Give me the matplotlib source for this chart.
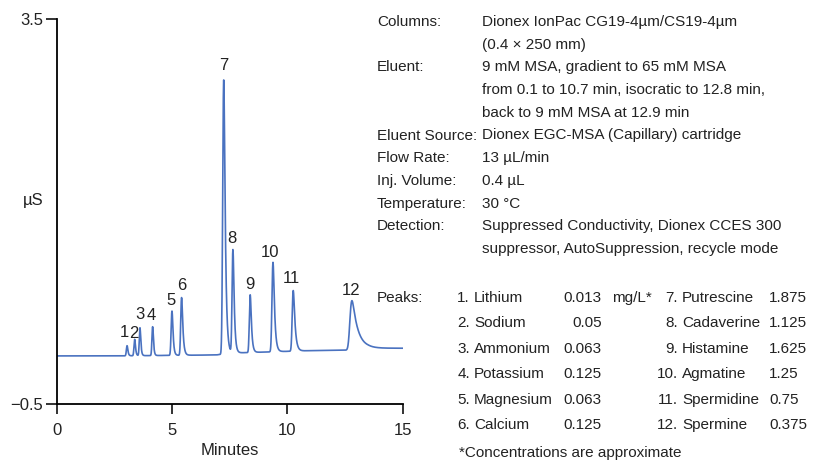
import numpy as np
import matplotlib
matplotlib.use("Agg")
import matplotlib.pyplot as plt
from matplotlib import font_manager

# font: narrow sans if there is one
names = {f.name for f in font_manager.fontManager.ttflist}
if "Liberation Sans Narrow" in names:
    FONT = ["Liberation Sans Narrow", "DejaVu Sans"]
else:
    FONT = ["Liberation Sans", "DejaVu Sans"]
plt.rcParams["font.family"] = FONT

# peaks
peak_ids = ["1", "2", "3", "4", "5", "6", "7", "8", "9", "10", "11", "12"]
peak_times = [3.03, 3.36, 3.59, 4.14, 4.98, 5.40, 7.23, 7.63, 8.38, 9.37, 10.25, 12.80]
peak_heights = [0.105, 0.17, 0.29, 0.30, 0.46, 0.60, 2.85, 1.07, 0.60, 0.93, 0.63, 0.51]
peak_sigma = [0.025, 0.025, 0.025, 0.025, 0.03, 0.03, 0.035, 0.03, 0.03, 0.035, 0.035, 0.06]
peak_tau = [0.03, 0.03, 0.03, 0.03, 0.04, 0.05, 0.06, 0.05, 0.05, 0.06, 0.07, 0.25]

# drifting baseline
base_times = [0, 2.5, 6.9, 7.6, 9.0, 11.0, 12.6, 13.5, 15.0]
base_values = [0.0, 0.0, 0.01, 0.03, 0.04, 0.055, 0.06, 0.08, 0.08]

# method text
cond_labels = ["Columns:", "", "Eluent:", "", "", "Eluent Source:", "Flow Rate:",
               "Inj. Volume:", "Temperature:", "Detection:", ""]
cond_values = ["Dionex IonPac CG19-4µm/CS19-4µm", "(0.4 × 250 mm)",
               "9 mM MSA, gradient to 65 mM MSA",
               "from 0.1 to 10.7 min, isocratic to 12.8 min,",
               "back to 9 mM MSA at 12.9 min",
               "Dionex EGC-MSA (Capillary) cartridge", "13 µL/min", "0.4 µL", "30 °C",
               "Suppressed Conductivity, Dionex CCES 300",
               "suppressor, AutoSuppression, recycle mode"]

names_left = ["Lithium", "Sodium", "Ammonium", "Potassium", "Magnesium", "Calcium"]
conc_left = ["0.013", "0.05", "0.063", "0.125", "0.063", "0.125"]
names_right = ["Putrescine", "Cadaverine", "Histamine", "Agmatine", "Spermidine", "Spermine"]
conc_right = ["1.875", "1.125", "1.625", "1.25", "0.75", "0.375"]

# label nudges (points)
label_dx = [-2.2, -0.6, 0, -1, -1, 0, 0, -1, 0, -2, -1, -1]
label_dy = [4, -1, 4, 3, 2, 3, 5, 3, 2, 2, 3, 2]


def emg(t, t0, h, s, tau):
    dt = t[1] - t[0]
    k = np.exp(-np.arange(0, 12 * tau, dt) / tau)
    y = np.convolve(np.exp(-0.5 * ((t - t0) / s) ** 2), k)[:len(t)]
    shift = t[np.argmax(y)] - t0
    y = np.convolve(np.exp(-0.5 * ((t - t0 + shift) / s) ** 2), k)[:len(t)]
    return h * y / y.max()


t = np.linspace(0, 15, 6001)
trace = np.interp(t, base_times, base_values)
for t0, h, s, tau in zip(peak_times, peak_heights, peak_sigma, peak_tau):
    trace = trace + emg(t, t0, h, s, tau)

W, H = 825, 465
fig = plt.figure(figsize=(8.25, 4.65), dpi=100)
ax = fig.add_axes([57.3 / W, 1 - 404 / H, 345.3 / W, 384.7 / H])

ax.plot(t, trace, color="#4a72c0", lw=1.2)
ax.set_xlim(0, 15)
ax.set_ylim(-0.5, 3.5)
ax.set_xticks([0, 5, 10, 15])
ax.set_yticks([-0.5, 3.5])
ax.set_yticklabels(["\u22120.5", "3.5"])
ax.spines["top"].set_visible(False)
ax.spines["right"].set_visible(False)
for sp in ("left", "bottom"):
    ax.spines[sp].set_linewidth(1.3)
ax.tick_params(axis="x", length=7, width=1.3, labelsize=12, colors="#222222", pad=7)
ax.tick_params(axis="y", length=8, width=1.3, labelsize=12, colors="#222222", pad=2)
ax.set_xlabel("Minutes", fontsize=12, labelpad=3, color="#222222")
ax.text(-0.07, 0.53, "µS", transform=ax.transAxes, fontsize=12,
        ha="center", va="center", color="#222222")

for i, lab in enumerate(peak_ids):
    ax.annotate(lab, (peak_times[i], peak_heights[i] + np.interp(peak_times[i], base_times, base_values)),
                xytext=(label_dx[i], label_dy[i]), textcoords="offset points",
                ha="center", va="bottom", fontsize=12, color="#222222")


def ftext(x, y, s, **kw):
    fig.text(x / W, 1 - y / H, s, va="center", fontsize=11, color="#222222", **kw)


y0, dy = 22, 22.7
for i, (a, b) in enumerate(zip(cond_labels, cond_values)):
    ftext(377, y0 + i * dy, a)
    ftext(482, y0 + i * dy, b)

ftext(377, 298, "Peaks:")
for i in range(6):
    y = 298 + i * 25.4
    ftext(470, y, f"{i + 1}.", ha="right")
    ftext(474, y, names_left[i])
    ftext(602, y, conc_left[i], ha="right")
    ftext(678, y, f"{i + 7}.", ha="right")
    ftext(682, y, names_right[i])
    ftext(769, y, conc_right[i])
ftext(612, 298, "mg/L*")
ftext(459, 453, "*Concentrations are approximate")

fig.savefig("out.png", dpi=100)
